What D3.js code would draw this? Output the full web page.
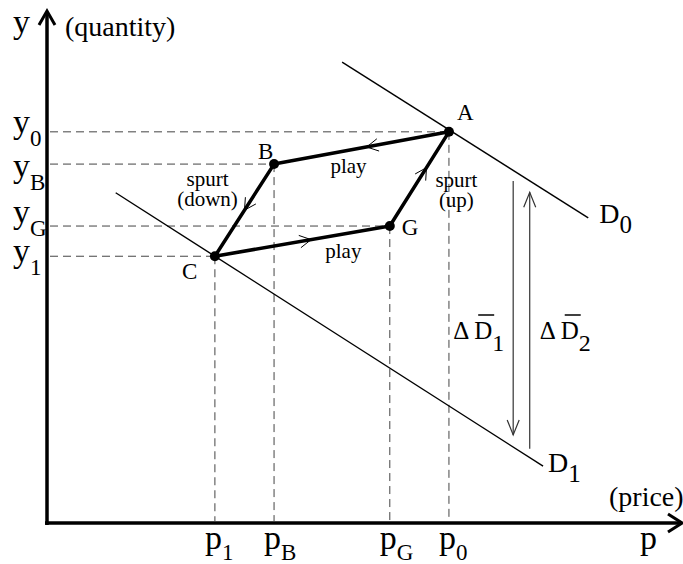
<!DOCTYPE html>
<html>
<head>
<meta charset="utf-8">
<script src="https://cdn.jsdelivr.net/npm/d3@7"></script>
<style>
  html, body { margin: 0; padding: 0; background: #fff; }
  svg { display: block; }
  svg text { font-family: "Liberation Serif", "Times New Roman", "DejaVu Serif", serif; fill: #000; }
</style>
</head>
<body>
<div id="chart"></div>
<script>
// cycle points, in the order the path runs: A -> B -> C -> G -> A
const pointNames = ["A", "B", "C", "G"];
const pointP = [63.2, 35.7, 26.4, 53.9];
const pointQ = [76.4, 70.1, 52.1, 58.0];

const segmentText = [["play"], ["spurt", "(down)"], ["play"], ["spurt", "(up)"]];

// tick labels (base letter + subscript) and which point they belong to
const yTickBase = ["y", "y", "y", "y"];
const yTickSub = ["0", "B", "G", "1"];
const yTickPoint = ["A", "B", "G", "C"];
const xTickBase = ["p", "p", "p", "p"];
const xTickSub = ["1", "B", "G", "0"];
const xTickPoint = ["C", "B", "G", "A"];

// demand curves
const demandNames = ["D", "D"];
const demandSub = ["0", "1"];
const demandP = [[46.4, 85.1], [10.8, 78.0]];
const demandQ = [[90.0, 59.6], [64.5, 11.1]];

// shift arrows (from -> to)
const shiftSub = ["1", "2"];
const shiftP = [73.3, 75.9];
const shiftFrom = [66.8, 14.5];
const shiftTo = [17.2, 64.6];

const width = 683;
const height = 564;
const serif = "'Liberation Serif', 'Times New Roman', 'DejaVu Serif', serif";

const x = d3.scaleLinear().domain([0, 100]).range([47, 683]);
const y = d3.scaleLinear().domain([0, 100]).range([523, 11]);

const svg = d3.select("#chart")
    .append("svg")
    .attr("width", width)
    .attr("height", height)
    .attr("font-family", serif);

const pt = name => {
    const i = pointNames.indexOf(name);
    return [x(pointP[i]), y(pointQ[i])];
};

// dashed guides
yTickPoint.forEach(n => {
    const [px, py] = pt(n);
    svg.append("line")
        .attr("x1", x(0) + 3).attr("x2", px)
        .attr("y1", py).attr("y2", py)
        .attr("stroke", "#444").attr("stroke-width", 1)
        .attr("stroke-dasharray", "8,5");
});
xTickPoint.forEach(n => {
    const [px, py] = pt(n);
    svg.append("line")
        .attr("x1", px).attr("x2", px)
        .attr("y1", py).attr("y2", y(0) - 2)
        .attr("stroke", "#444").attr("stroke-width", 1)
        .attr("stroke-dasharray", "8,5");
});

// demand curves
demandP.forEach((ps, i) => {
    svg.append("line")
        .attr("x1", x(ps[0])).attr("y1", y(demandQ[i][0]))
        .attr("x2", x(ps[1])).attr("y2", y(demandQ[i][1]))
        .attr("stroke", "#000").attr("stroke-width", 1.4);
});

// axes
svg.append("line")
    .attr("x1", x(0)).attr("x2", x(0))
    .attr("y1", y(0) + 2).attr("y2", y(100) + 2)
    .attr("stroke", "#000").attr("stroke-width", 3.5);
svg.append("path")
    .attr("d", `M${x(0) - 8},${y(100) + 14}L${x(0)},${y(100)}L${x(0) + 8},${y(100) + 14}`)
    .attr("fill", "none").attr("stroke", "#000").attr("stroke-width", 3);

svg.append("line")
    .attr("x1", x(0) - 2).attr("x2", x(100) - 2)
    .attr("y1", y(0)).attr("y2", y(0))
    .attr("stroke", "#000").attr("stroke-width", 3.5);
svg.append("path")
    .attr("d", `M${x(100) - 15},${y(0) - 9}L${x(100) - 1},${y(0)}L${x(100) - 15},${y(0) + 9}`)
    .attr("fill", "none").attr("stroke", "#000").attr("stroke-width", 3);

// cycle path
const cycle = pointNames.map(pt);
const line = d3.line();
svg.append("path")
    .attr("d", line(cycle) + "Z")
    .attr("fill", "none")
    .attr("stroke", "#000")
    .attr("stroke-width", 3.5)
    .attr("stroke-linejoin", "round");

// direction chevrons on each segment
const arrowAt = [0.47, 0.5, 0.55, 0.62];
cycle.forEach((a, i) => {
    const b = cycle[(i + 1) % cycle.length];
    const t = arrowAt[i];
    const tx = a[0] + (b[0] - a[0]) * t;
    const ty = a[1] + (b[1] - a[1]) * t;
    const ang = Math.atan2(b[1] - a[1], b[0] - a[0]);
    const len = 13, spread = 0.5;
    const p1 = [tx - len * Math.cos(ang - spread), ty - len * Math.sin(ang - spread)];
    const p2 = [tx - len * Math.cos(ang + spread), ty - len * Math.sin(ang + spread)];
    svg.append("path")
        .attr("d", `M${p1}L${tx},${ty}L${p2}`)
        .attr("fill", "none").attr("stroke", "#000").attr("stroke-width", 1);
});

// points
svg.selectAll(".dot")
    .data(cycle)
    .enter()
    .append("circle")
    .attr("class", "dot")
    .attr("cx", d => d[0]).attr("cy", d => d[1])
    .attr("r", 5).attr("fill", "#000");

// point labels
const pointLabelOff = { A: [8, -12], B: [-16, -5], C: [-33, 23], G: [12, 9] };
pointNames.forEach(n => {
    const [px, py] = pt(n);
    svg.append("text")
        .attr("x", px + pointLabelOff[n][0])
        .attr("y", py + pointLabelOff[n][1])
        .attr("font-family", serif)
        .style("font-size", "23px")
        .text(n);
});

// segment labels
const segOff = [[-13, 25], [-37, -24], [41, 17], [37, 8]];
cycle.forEach((a, i) => {
    const b = cycle[(i + 1) % cycle.length];
    const mx = (a[0] + b[0]) / 2 + segOff[i][0];
    const my = (a[1] + b[1]) / 2 + segOff[i][1];
    const txt = svg.append("text")
        .attr("text-anchor", "middle")
        .attr("font-family", serif)
        .style("font-size", "21px");
    segmentText[i].forEach((s, k) => {
        txt.append("tspan")
            .attr("x", mx)
            .attr("y", my + k * 20)
            .text(s);
    });
});

// subscripted label helper
function subLabel(px, py, base, sub, size, subSize, subDy, anchor) {
    const t = svg.append("text")
        .attr("x", px).attr("y", py)
        .attr("text-anchor", anchor || "start")
        .attr("font-family", serif)
        .style("font-size", size + "px");
    t.append("tspan").text(base);
    t.append("tspan")
        .attr("dy", subDy)
        .style("font-size", subSize + "px")
        .text(sub);
    return t;
}

// y tick labels
const yLabelDy = [1, 13, -3, 6];
yTickPoint.forEach((n, i) => {
    const py = pt(n)[1];
    subLabel(13, py + yLabelDy[i], yTickBase[i], yTickSub[i], 34, 23, 13);
});

// x tick labels
xTickPoint.forEach((n, i) => {
    const px = pt(n)[0];
    subLabel(px - 10, 549, xTickBase[i], xTickSub[i], 34, 23, 11);
});

// axis titles
svg.append("text").attr("x", 13).attr("y", 33).attr("font-family", serif)
    .style("font-size", "34px").text("y");
svg.append("text").attr("x", 65).attr("y", 36).attr("font-family", serif)
    .style("font-size", "28px").text("(quantity)");
svg.append("text").attr("x", 640).attr("y", 549).attr("font-family", serif)
    .style("font-size", "34px").text("p");
svg.append("text").attr("x", 609).attr("y", 506).attr("font-family", serif)
    .style("font-size", "28px").text("(price)");

// demand labels
const demandOff = [[11, 5], [5, 6]];
demandNames.forEach((d, i) => {
    subLabel(x(demandP[i][1]) + demandOff[i][0], y(demandQ[i][1]) + demandOff[i][1],
        d, demandSub[i], 28, 25, 10);
});

// shift arrows
shiftP.forEach((p, i) => {
    const sx = x(p), y1 = y(shiftFrom[i]), y2 = y(shiftTo[i]);
    const dir = y2 > y1 ? 1 : -1;
    svg.append("line")
        .attr("x1", sx).attr("x2", sx)
        .attr("y1", y1).attr("y2", y2)
        .attr("stroke", "#333").attr("stroke-width", 1.2);
    svg.append("path")
        .attr("d", `M${sx - 6},${y2 - dir * 15}L${sx},${y2}L${sx + 6},${y2 - dir * 15}`)
        .attr("fill", "none").attr("stroke", "#333").attr("stroke-width", 1.2);
});

// shift labels (delta D-bar)
const shiftLabelDx = [-60, 10];
shiftP.forEach((p, i) => {
    const lx = x(p) + shiftLabelDx[i];
    const t = svg.append("text")
        .attr("x", lx).attr("y", 339)
        .attr("font-family", serif)
        .style("font-size", "25px");
    t.append("tspan").text("\u0394");
    t.append("tspan").attr("dx", 5).text("D");
    t.append("tspan").attr("dy", 12).style("font-size", "24px").text(shiftSub[i]);
    // overbar on D
    const dx0 = lx + 25;
    svg.append("line")
        .attr("x1", dx0).attr("x2", dx0 + 16)
        .attr("y1", 315).attr("y2", 315)
        .attr("stroke", "#000").attr("stroke-width", 1.5);
});
</script>
</body>
</html>
